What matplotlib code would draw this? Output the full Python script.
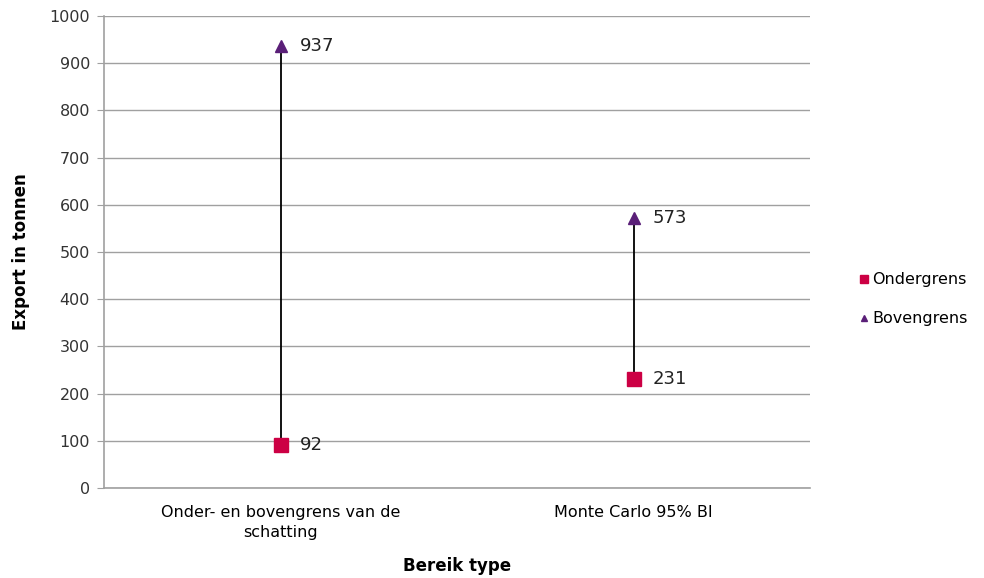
import matplotlib.pyplot as plt

categories = ['Onder- en bovengrens van de\nschatting', 'Monte Carlo 95% BI']
ondergrens = [92, 231]
bovengrens = [937, 573]

sq_color = '#cc0044'
tri_color = '#5a1f78'
grid_color = '#a0a0a0'

fig = plt.figure(figsize=(9.84, 5.78), dpi=100)
ax = fig.add_axes([104 / 984, 1 - 488 / 578, 706 / 984, 472 / 578])

x = list(range(len(categories)))
for i in x:
    ax.plot([i, i], [ondergrens[i], bovengrens[i]], color='black', lw=1.3, zorder=2)

ax.plot(x, ondergrens, ls='none', marker='s', ms=10, color=sq_color,
        label='Ondergrens', zorder=3)
ax.plot(x, bovengrens, ls='none', marker='^', ms=9, color=tri_color,
        label='Bovengrens', zorder=3)

for i in x:
    ax.annotate(str(ondergrens[i]), (i, ondergrens[i]), xytext=(14, 0),
                textcoords='offset points', va='center', fontsize=13, color='#222222')
    ax.annotate(str(bovengrens[i]), (i, bovengrens[i]), xytext=(14, 0),
                textcoords='offset points', va='center', fontsize=13, color='#222222')

ax.set_xlim(-0.5, 1.5)
ax.set_ylim(0, 1000)
ax.set_yticks(range(0, 1001, 100))
ax.set_xticks(x)
ax.set_xticklabels(categories, fontsize=11.5, linespacing=1.45)
ax.tick_params(axis='x', length=0, pad=12)
ax.tick_params(axis='y', length=5, color=grid_color, labelsize=11.5,
               labelcolor='#333333', pad=5)
ax.yaxis.grid(True, color=grid_color, lw=1)
ax.set_axisbelow(True)
for s in ['top', 'right']:
    ax.spines[s].set_visible(False)
for s in ['left', 'bottom']:
    ax.spines[s].set_color(grid_color)
    ax.spines[s].set_linewidth(1.2)

ax.set_ylabel('Export in tonnen', fontsize=12, fontweight='bold', labelpad=14)
ax.set_xlabel('Bereik type', fontsize=12, fontweight='bold', labelpad=12)

ax.legend(loc='center left', bbox_to_anchor=(1.05, 0.40), frameon=False,
          fontsize=11.5, handlelength=0.5, handletextpad=0.3, labelspacing=1.5,
          markerscale=0.55)

fig.savefig('out.png', dpi=100)
